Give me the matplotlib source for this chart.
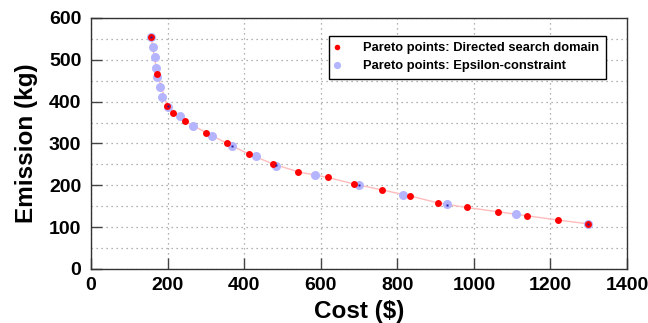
import numpy as np
import matplotlib.pyplot as plt

# Directed search domain Pareto points
dsd_cost = [157, 173, 199, 215, 246, 301, 356, 414, 476, 542, 618, 688, 760, 832, 906, 982, 1062, 1140, 1220, 1298]
dsd_emis = [555, 467, 390, 373, 353, 326, 300, 274, 251, 232, 219, 203, 189, 175, 158, 147, 137, 127, 117, 108]

# Epsilon-constraint Pareto points
eps_cost = [157, 162, 168, 170, 173, 181, 186, 202, 232, 267, 317, 369, 432, 484, 584, 699, 814, 929, 1110, 1298]
eps_emis = [555, 531, 507, 481, 459, 435, 411, 388, 365, 342, 318, 294, 270, 246, 225, 201, 177, 155, 132, 108]

# points where a small dark marker is visible
dark_cost = [157, 202, 369, 484, 699, 929, 1298]
dark_emis = [555, 390, 294, 248, 201, 154, 108]

plt.rcParams['font.family'] = ['Liberation Sans', 'DejaVu Sans']
plt.rcParams['font.weight'] = 'bold'

fig = plt.figure(figsize=(6.48, 3.23), dpi=100)
ax = fig.add_axes([0.1404, 0.1672, 0.8272, 0.7771])

ax.plot(dsd_cost, dsd_emis, color='#ffbcbc', lw=1, zorder=2)
ax.plot(eps_cost, eps_emis, 'o', color='#b4b4ff', ms=6.5, mec='none', zorder=3,
        label='Pareto points: Epsilon-constraint')
ax.plot(dsd_cost, dsd_emis, 'o', color='#ff0000', ms=5, mec='none', zorder=4,
        label='Pareto points: Directed search domain')
ax.plot(dark_cost, dark_emis, 's', color='#2020a0', ms=1.5, mec='none', zorder=5)

ax.set_xlim(0, 1400)
ax.set_ylim(0, 600)
ax.set_xticks(np.arange(0, 1401, 200))
ax.set_yticks(np.arange(0, 601, 100))
ax.set_yticks(np.arange(50, 600, 100), minor=True)
ax.grid(True, which='both', linestyle=(0, (1, 3)), color='#999999', lw=0.9)
ax.tick_params(direction='in', length=8, width=1, labelsize=14, color='#444444')
ax.tick_params(axis='y', pad=7)
ax.tick_params(axis='x', pad=6)
ax.tick_params(which='minor', length=0)
for s in ax.spines.values():
    s.set_color('#333333')
    s.set_linewidth(1)

ax.set_xlabel('Cost ($)', fontsize=17.5, fontweight='bold', labelpad=4)
ax.set_ylabel('Emission (kg)', fontsize=17.5, fontweight='bold', labelpad=8)

h, l = ax.get_legend_handles_labels()
leg = ax.legend(h[::-1], l[::-1], loc='upper right', bbox_to_anchor=(0.972, 0.955),
                prop={'size': 9.3, 'weight': 'bold'}, fancybox=False, framealpha=1,
                edgecolor='black', handlelength=0.25, handletextpad=1.9, borderpad=0.5,
                labelspacing=0.45, markerscale=0.8)
leg.get_frame().set_linewidth(1)

fig.savefig('out.png', dpi=100)
